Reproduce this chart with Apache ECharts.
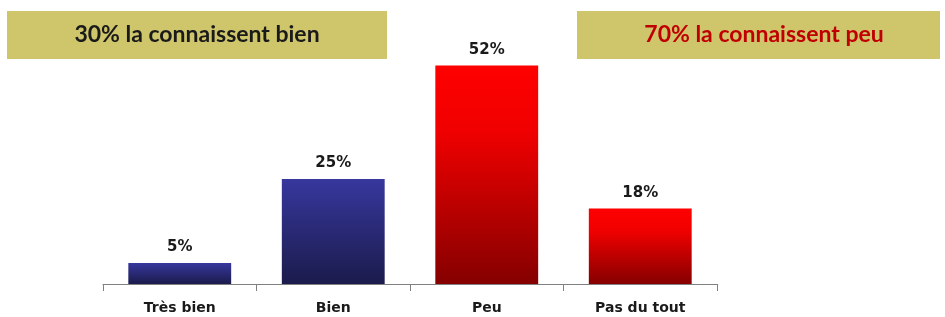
<!DOCTYPE html>
<html lang="fr">
  <head>
    <meta charset="UTF-8" />
    <title>Connaissance</title>
    <script src="https://cdn.jsdelivr.net/npm/echarts@6/dist/echarts.min.js"></script>
    <style>
      html, body { margin: 0; padding: 0; background: #fff; }
      #chart { width: 945px; height: 317px; }
    </style>
  </head>
  <body>
    <div id="chart"></div>
    <script>
      // données
      var categories = ["Très bien", "Bien", "Peu", "Pas du tout"];
      var values = [5, 25, 52, 18];
      var groups = ["bien", "bien", "peu", "peu"];
      var headerLeft = "30% la connaissent bien";
      var headerRight = "70% la connaissent peu";

      var blue = new echarts.graphic.LinearGradient(0, 0, 0, 1, [
        { offset: 0, color: "#37379e" },
        { offset: 1, color: "#1b1b4c" },
      ]);
      var red = new echarts.graphic.LinearGradient(0, 0, 0, 1, [
        { offset: 0, color: "#ff0000" },
        { offset: 0.3, color: "#f00000" },
        { offset: 1, color: "#850000" },
      ]);

      var chart = echarts.init(document.getElementById("chart"));
      var option = {
        animation: false,
        grid: { left: 103, right: 228, top: 32, bottom: 33 },
        xAxis: {
          type: "category",
          data: categories,
          axisLine: { lineStyle: { color: "#808080", width: 1 } },
          axisTick: {
            show: true,
            alignWithLabel: false,
            interval: 0,
            length: 7,
            lineStyle: { color: "#808080", width: 1 },
          },
          axisLabel: {
            margin: 17,
            color: "#1a1a1a",
            fontFamily: "DejaVu Sans",
            fontWeight: "bold",
            fontSize: 14,
          },
        },
        yAxis: {
          type: "value",
          min: 0,
          max: 60,
          show: false,
          splitLine: { show: false },
        },
        series: [
          {
            type: "bar",
            barWidth: "67%",
            data: values.map(function (v, i) {
              return {
                value: v,
                itemStyle: { color: groups[i] === "bien" ? blue : red },
              };
            }),
            label: {
              show: true,
              position: "top",
              distance: 8,
              formatter: "{c}%",
              color: "#1a1a1a",
              fontFamily: "DejaVu Sans",
              fontWeight: "bold",
              fontSize: 15,
            },
          },
        ],
        graphic: [
          {
            type: "rect",
            shape: { x: 7, y: 11, width: 380, height: 48 },
            style: { fill: "#cfc66b" },
          },
          {
            type: "text",
            x: 197,
            y: 35,
            style: {
              text: headerLeft,
              fill: "#1a1a1a",
              font: "bold 23px Lato",
              textAlign: "center",
              textVerticalAlign: "middle",
            },
          },
          {
            type: "rect",
            shape: { x: 577, y: 11, width: 363, height: 48 },
            style: { fill: "#cfc66b" },
          },
          {
            type: "text",
            x: 764,
            y: 35,
            style: {
              text: headerRight,
              fill: "#c00000",
              font: "bold 23px Lato",
              textAlign: "center",
              textVerticalAlign: "middle",
            },
          },
        ],
      };
      chart.setOption(option);
    </script>
  </body>
</html>
